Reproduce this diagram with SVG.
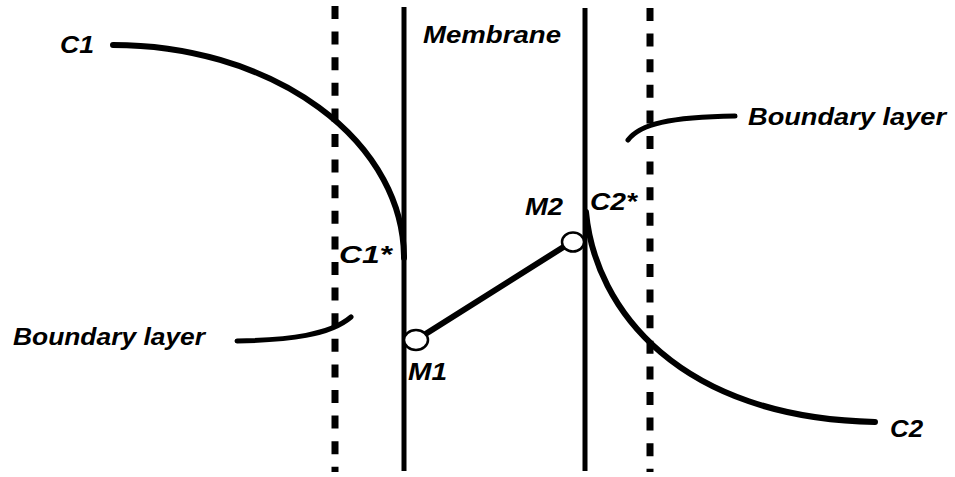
<svg xmlns="http://www.w3.org/2000/svg" width="955" height="477" viewBox="0 0 955 477">
<style>
.lbl{font-family:"Liberation Sans",Arial,sans-serif;font-weight:bold;font-style:italic;font-size:23px;fill:#000}
.wall{stroke:#000;stroke-width:5;fill:none}
.dash{stroke:#000;stroke-width:7;fill:none;stroke-dasharray:13 12.6}
.curve{stroke:#000;stroke-width:6;fill:none;stroke-linecap:round}
.ptr{stroke:#000;stroke-width:5;fill:none;stroke-linecap:round}
.pt{fill:#fff;stroke:#000;stroke-width:2.5}
</style>
<rect width="955" height="477" fill="#fff"/>
<g id="boundary-left"><line class="dash" x1="335" y1="6" x2="335" y2="472"/></g>
<g id="boundary-right"><line class="dash" x1="650" y1="8" x2="650" y2="472"/></g>
<g id="membrane">
<line class="wall" x1="404" y1="7" x2="404" y2="471"/>
<line class="wall" x1="585" y1="8" x2="585" y2="471"/>
<text class="lbl" x="423" y="43" textLength="138" lengthAdjust="spacingAndGlyphs">Membrane</text>
</g>
<g id="connectors">
<path class="curve" d="M113,45 A291,213 0 0 1 404,258"/>
<path class="curve" d="M586,212 C595,310 680,418 875,422"/>
<line class="curve" x1="416" y1="340" x2="573" y2="241"/>
<path class="ptr" d="M237,341 C290,340 330,335 351,317"/>
<path class="ptr" d="M628,140 C640,124 670,117 735,116"/>
</g>
<g id="M1"><ellipse class="pt" cx="416" cy="340" rx="12" ry="10"/><text class="lbl" x="408" y="380" textLength="39" lengthAdjust="spacingAndGlyphs">M1</text></g>
<g id="M2"><ellipse class="pt" cx="573" cy="242" rx="11" ry="9.5"/><text class="lbl" x="525" y="215" textLength="38" lengthAdjust="spacingAndGlyphs">M2</text></g>
<g id="label-C1"><text class="lbl" x="60" y="53" textLength="34" lengthAdjust="spacingAndGlyphs">C1</text></g>
<g id="label-C1s"><text class="lbl" x="339" y="263" textLength="53" lengthAdjust="spacingAndGlyphs">C1*</text></g>
<g id="label-C2s"><text class="lbl" x="590" y="210" textLength="47" lengthAdjust="spacingAndGlyphs">C2*</text></g>
<g id="label-C2"><text class="lbl" x="890" y="437" textLength="33" lengthAdjust="spacingAndGlyphs">C2</text></g>
<g id="label-BL-right"><text class="lbl" x="748" y="125" textLength="198" lengthAdjust="spacingAndGlyphs">Boundary layer</text></g>
<g id="label-BL-left"><text class="lbl" x="13" y="345" textLength="192" lengthAdjust="spacingAndGlyphs">Boundary layer</text></g>
</svg>
